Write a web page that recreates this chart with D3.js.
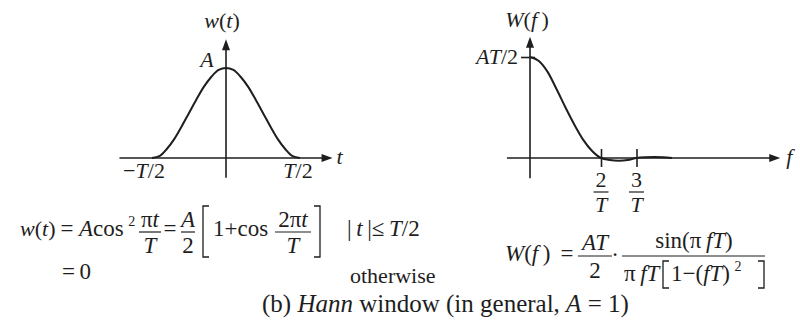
<!DOCTYPE html>
<html>
<head>
<meta charset="utf-8">
<script src="https://cdn.jsdelivr.net/npm/d3@7"></script>
<style>
  html, body { margin: 0; padding: 0; background: #fff; }
  svg { display: block; }
  text { font-family: "Liberation Serif", "Times New Roman", serif; fill: #1e1e1e; }
</style>
</head>
<body>
<svg id="chart" width="800" height="321"></svg>
<script>
// Hann window in the time domain, A = 1, t in units of T
const timeT = [-0.5, -0.45, -0.4, -0.35, -0.3, -0.25, -0.2, -0.15, -0.1, -0.05, 0,
               0.05, 0.1, 0.15, 0.2, 0.25, 0.3, 0.35, 0.4, 0.45, 0.5];
const timeW = [0, 0.02, 0.10, 0.21, 0.35, 0.50, 0.65, 0.79, 0.90, 0.98, 1,
               0.98, 0.90, 0.79, 0.65, 0.50, 0.35, 0.21, 0.10, 0.02, 0];

// Its spectrum, scaled so that W(0) = AT/2 = 1, f in units of 1/T
const freqF = [0, 0.25, 0.5, 0.75, 1, 1.25, 1.5, 1.75, 2, 2.25, 2.5, 2.75, 3, 3.25, 3.5, 3.75, 4];
const freqW = [1, 0.96, 0.85, 0.68, 0.50, 0.33, 0.18, 0.07, 0, -0.02, -0.027, -0.02, 0, 0.008, 0.011, 0.008, 0];

// Axis extents and tick values
const timeAxisT = [-0.72, 0.72];
const timeAxisW = [-0.22, 1.32];
const timeTickValues = [-0.5, 0.5];
const timeTickSigns = ["−", ""];
const freqAxisF = [-0.65, 7.05];
const freqAxisW = [-0.2, 1.2];
const freqTickValues = [2, 3];
const freqTickNumerators = ["2", "3"];
const ampTickValues = [1];

const svg = d3.select("#chart");
const INK = "#1e1e1e";
const FS = 23;     // formula text
const LS = 22;     // axis labels
const I = s => `<tspan font-style="italic">${s}</tspan>`;
const SUP = s => `<tspan dy="-10" font-size="14">${s}</tspan>`;

function label(x, y, html, opt = {}) {
  return svg.append("text")
    .attr("x", x).attr("y", y)
    .attr("font-size", opt.size || FS)
    .attr("text-anchor", opt.anchor || "start")
    .html(html);
}
function rule(x0, x1, y, w = 1.2) {
  svg.append("line").attr("x1", x0).attr("x2", x1).attr("y1", y).attr("y2", y)
    .attr("stroke", INK).attr("stroke-width", w);
}
function frac(cx, halfW, barY, num, den, numY, denY, size) {
  rule(cx - halfW, cx + halfW, barY);
  label(cx, numY, num, { anchor: "middle", size });
  label(cx, denY, den, { anchor: "middle", size });
}
function bracket(x, y0, y1, dir) {
  const arm = 6 * dir;
  svg.append("path")
    .attr("d", `M${x + arm},${y0}H${x}V${y1}H${x + arm}`)
    .attr("fill", "none").attr("stroke", INK).attr("stroke-width", 1.3);
}
function arrowX(x, y) {
  svg.append("path").attr("d", `M${x},${y}L${x - 11},${y - 4}L${x - 11},${y + 4}Z`).attr("fill", INK);
}
function arrowY(x, y) {
  svg.append("path").attr("d", `M${x},${y}L${x - 4},${y + 11}L${x + 4},${y + 11}Z`).attr("fill", INK);
}

// ---------- left panel: w(t) ----------
const xt = d3.scaleLinear().domain([-0.5, 0.5]).range([152, 300]);
const yt = d3.scaleLinear().domain([0, 1]).range([158, 68]);

const gT = svg.append("g");
gT.append("line")
  .attr("x1", xt(timeAxisT[0])).attr("x2", xt(timeAxisT[1]) - 6)
  .attr("y1", yt(0)).attr("y2", yt(0))
  .attr("stroke", INK).attr("stroke-width", 1.6);
gT.append("line")
  .attr("x1", xt(0)).attr("x2", xt(0))
  .attr("y1", yt(timeAxisW[0])).attr("y2", yt(timeAxisW[1]) + 6)
  .attr("stroke", INK).attr("stroke-width", 1.6);
arrowX(xt(timeAxisT[1]), yt(0));
arrowY(xt(0), yt(timeAxisW[1]));

gT.append("path")
  .datum(d3.zip(timeT, timeW))
  .attr("fill", "none").attr("stroke", INK).attr("stroke-width", 2)
  .attr("d", d3.line().x(d => xt(d[0])).y(d => yt(d[1])).curve(d3.curveMonotoneX));

label(xt(0) - 4, 28, I("w") + "(" + I("t") + ")", { anchor: "middle", size: LS });
label(xt(0) - 19, 67, I("A"), { anchor: "middle", size: LS });
label(xt(timeAxisT[1]) + 4, 164, I("t"), { size: LS });
timeTickValues.forEach((v, i) => {
  label(xt(v) + (v < 0 ? -8 : -2), 178, timeTickSigns[i] + I("T") + "/2", { anchor: "middle", size: LS });
});

// ---------- right panel: W(f) ----------
const xf = d3.scaleLinear().domain([0, 2]).range([530, 601]);
const yf = d3.scaleLinear().domain([0, 1]).range([158, 57]);

const gF = svg.append("g");
gF.append("line")
  .attr("x1", xf(freqAxisF[0])).attr("x2", xf(freqAxisF[1]) - 6)
  .attr("y1", yf(0)).attr("y2", yf(0))
  .attr("stroke", INK).attr("stroke-width", 1.6);
gF.append("line")
  .attr("x1", xf(0)).attr("x2", xf(0))
  .attr("y1", yf(freqAxisW[0])).attr("y2", yf(freqAxisW[1]) + 6)
  .attr("stroke", INK).attr("stroke-width", 1.6);
arrowX(xf(freqAxisF[1]), yf(0));
arrowY(xf(0), yf(freqAxisW[1]));

// tick marks crossing the axes, placed with d3 axes
const fTicks = gF.append("g").attr("transform", `translate(0,${yf(0)})`)
  .call(d3.axisBottom(xf).tickValues(freqTickValues).tickSize(9).tickFormat(""));
fTicks.select(".domain").remove();
fTicks.selectAll(".tick line").attr("y1", -9).attr("stroke", INK).attr("stroke-width", 1.6);

const aTicks = gF.append("g").attr("transform", `translate(${xf(0)},0)`)
  .call(d3.axisLeft(yf).tickValues(ampTickValues).tickSize(9).tickFormat(""));
aTicks.select(".domain").remove();
aTicks.selectAll(".tick line").attr("x1", 5).attr("stroke", INK).attr("stroke-width", 1.6);

gF.append("path")
  .datum(d3.zip(freqF, freqW))
  .attr("fill", "none").attr("stroke", INK).attr("stroke-width", 2)
  .attr("d", d3.line().x(d => xf(d[0])).y(d => yf(d[1])).curve(d3.curveMonotoneX));

label(xf(0) - 3, 27, I("W") + "(" + I("f") + "\u2009)", { anchor: "middle", size: LS });
ampTickValues.forEach(v => {
  label(xf(0) - 12, yf(v) + 7, I("AT") + "/2", { anchor: "end", size: LS });
});
label(xf(freqAxisF[1]) + 6, 164, I("f"), { size: LS });
freqTickValues.forEach((v, i) => {
  frac(xf(v), 7.5, 192, freqTickNumerators[i], I("T"), 187, 212, LS);
});

// ---------- formulas ----------
// w(t) = A cos^2(pi t / T) = A/2 [1 + cos(2 pi t / T)],  |t| <= T/2
label(20, 236, I("w") + "(" + I("t") + ")", { size: 22 });
label(67, 236, "=", { anchor: "middle" });
label(79, 236, I("A") + "cos\u2009" + SUP("2"));
frac(150, 11, 232, "π" + I("t"), I("T"), 227, 253);
label(170, 236, "=", { anchor: "middle" });
frac(188, 7, 232, I("A"), "2", 227, 253);
bracket(203, 206, 257, 1);
label(213, 236, "1+cos");
frac(293, 18, 232, "2π" + I("t"), I("T"), 227, 253);
bracket(320, 206, 257, -1);
label(347, 236, "|\u2009" + I("t") + "\u2009|≤\u2009" + I("T") + "/2");

label(62, 279, "=\u20090");
label(350, 283, "otherwise", { size: 22 });

// W(f) = AT/2 · sin(pi f T) / (pi f T [1 - (fT)^2])
label(505, 261, I("W") + "(" + I("f") + "\u2009)");
label(567, 261, "=", { anchor: "middle" });
frac(595, 17, 256, I("AT"), "2", 250, 278);
label(615, 262, "·", { anchor: "middle" });
rule(622, 765, 256);
label(694, 248, "sin(π\u2009" + I("fT") + ")", { anchor: "middle" });
label(624, 281, "π\u2009" + I("fT"));
bracket(663, 261, 288, 1);
label(671, 281, "1−(" + I("fT") + ")\u2009" + SUP("2"));
bracket(764, 261, 288, -1);

// caption
label(262, 312, "(b) " + I("Hann") + " window (in general, " + I("A") + " = 1)", { size: 25 });
</script>
</body>
</html>
